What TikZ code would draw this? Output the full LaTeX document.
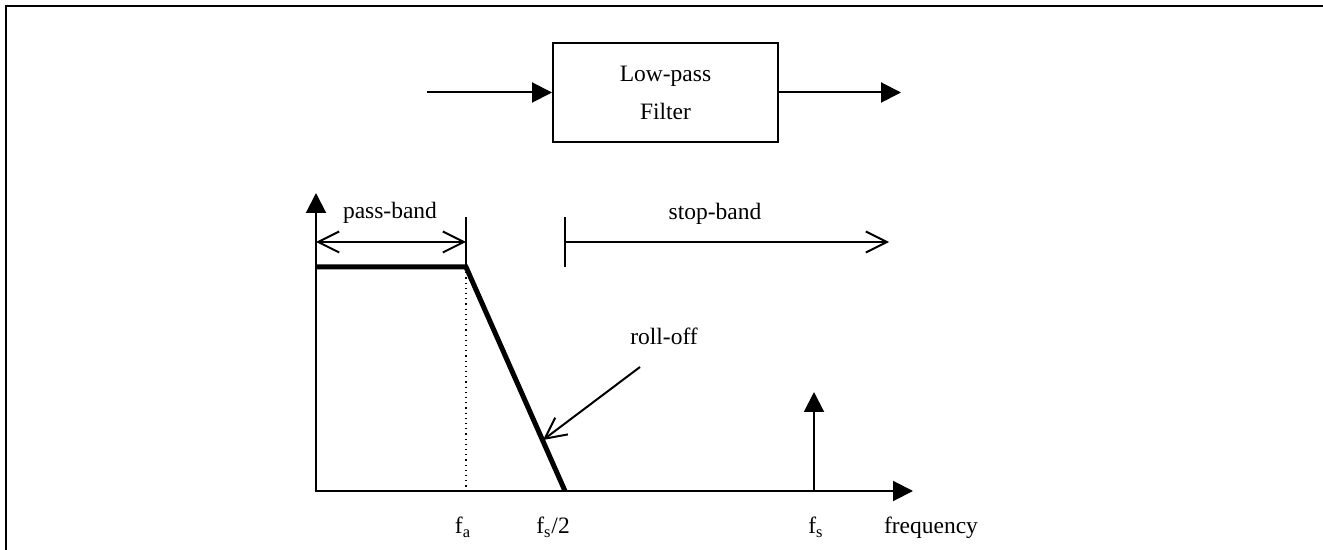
\documentclass[tikz,border=0pt]{standalone}
\usepackage{fontspec}
\setmainfont{Liberation Serif}
\usetikzlibrary{arrows.meta}
\begin{document}
\begin{tikzpicture}[x=0.5pt,y=-0.5pt,line width=1pt,
  font=\fontsize{11.75}{19}\selectfont,
  fillarrow/.style={-{Triangle[length=10pt,width=10pt]}},
  openarrow/.style={-{Straight Barb[length=10.5pt,width=10.5pt]}},
  openboth/.style={{Straight Barb[length=10.5pt,width=10.5pt]}-{Straight Barb[length=10.5pt,width=10.5pt]}},
  axesarrow/.style={{Triangle[length=10pt,width=10pt]}-{Triangle[length=10pt,width=10pt]}},
  lbl/.style={inner sep=0pt, anchor=base},
  thickcurve/.style={line width=2.5pt, line join=miter}]
\useasboundingbox (0,0) rectangle (1323,550);
% frame (left and top only)
\coordinate (frB) at (6,550);
\coordinate (frC) at (6,6);
\coordinate (frR) at (1323,6);
\draw (frB) -- (frC) -- (frR);
% filter block
\node[draw, minimum width=112.5pt, minimum height=49.5pt, align=center, inner sep=0pt] (lpf) at (665.5,92.5) {Low-pass\\Filter};
\coordinate (in) at (427,92.5);
\coordinate (out) at (901,92.5);
\draw[fillarrow] (in) -- (lpf.west);
\draw[fillarrow] (lpf.east) -- (out);
% axes
\coordinate (O) at (316,491);
\coordinate (ytip) at (316,193);
\coordinate (xtip) at (913,491);
\draw[axesarrow] (ytip) -- (O) -- (xtip);
% pass-band
\coordinate (pbL) at (316,242);
\coordinate (pbR) at (466,242);
\coordinate (faT) at (466,217);
\coordinate (faM) at (466,267);
\coordinate (faB) at (466,491);
\draw (faT) -- (faM);
\draw[line width=0.6pt, dotted] (faM) -- (faB);
\draw[openboth] (pbL) -- (pbR);
\node[lbl] (pb) at (390,219) {pass-band};
% response
\coordinate (r0) at (316,267);
\coordinate (r2) at (565,491);
\draw[thickcurve] (r0) -- (faM) -- (r2);
% stop-band
\coordinate (sbT) at (565,217);
\coordinate (sbB) at (565,267);
\coordinate (sbL) at (565,242);
\coordinate (sbR) at (889,242);
\draw (sbT) -- (sbB);
\draw[openarrow] (sbL) -- (sbR);
\node[lbl] (sb) at (715,220) {stop-band};
% roll-off
\node[lbl] (ro) at (664,345) {roll-off};
\coordinate (roS) at (640,367);
\coordinate (roE) at (543,440);
\draw[openarrow] (roS) -- (roE);
% fs impulse
\coordinate (fsB) at (814,491);
\coordinate (fsT) at (814,392);
\draw[fillarrow] (fsB) -- (fsT);
% axis labels
\node[lbl] (fa) at (463,534) {f\textsubscript{a}};
\node[lbl] (fs2) at (553,534) {f\textsubscript{s}/2};
\node[lbl] (fs) at (816,534) {f\textsubscript{s}};
\node[lbl, anchor=base west] (freq) at (883,534) {frequency};
\end{tikzpicture}
\end{document}
